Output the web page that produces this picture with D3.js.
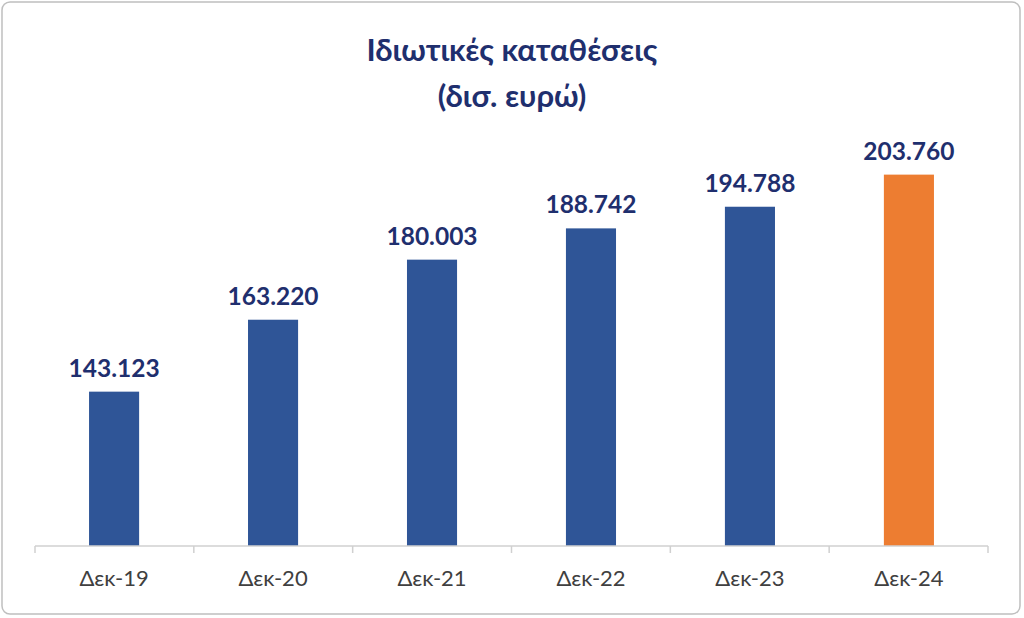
<!DOCTYPE html>
<html><head><meta charset="utf-8">
<script src="https://cdn.jsdelivr.net/npm/d3@7"></script>
<style>body{margin:0;background:#fff}</style>
</head><body><svg id="chart" width="1024" height="618"></svg>
<script>
var categories = ["Δεκ-19", "Δεκ-20", "Δεκ-21", "Δεκ-22", "Δεκ-23", "Δεκ-24"];
var values = [143.123, 163.220, 180.003, 188.742, 194.788, 203.760];
var labels = ["143.123", "163.220", "180.003", "188.742", "194.788", "203.760"];
var colors = ["#2f5597", "#2f5597", "#2f5597", "#2f5597", "#2f5597", "#ed7d31"];

var svg = d3.select("#chart");
svg.append("rect").attr("x", 2).attr("y", 2).attr("width", 1018).attr("height", 612)
    .attr("rx", 8).attr("fill", "#fff").attr("stroke", "#bfbfbf").attr("stroke-width", 1.5);

var navy = "#1f2f6e";
svg.append("text").attr("x", 512).attr("y", 61).attr("text-anchor", "middle")
    .attr("font-family", "Lato, 'Noto Sans', sans-serif").attr("font-weight", "bold")
    .attr("font-size", 31).attr("fill", navy).text("Ιδιωτικές καταθέσεις");
svg.append("text").attr("x", 512).attr("y", 107).attr("text-anchor", "middle")
    .attr("font-family", "Lato, 'Noto Sans', sans-serif").attr("font-weight", "bold")
    .attr("font-size", 31).attr("fill", navy).text("(δισ. ευρώ)");

var x = d3.scaleBand().domain(categories).range([35, 988]).paddingInner(0.685).paddingOuter(0.34);
var y = d3.scaleLinear().domain([100, 220]).range([546, 116.5]);

svg.selectAll(".bar").data(values).enter().append("rect")
    .attr("x", function (d, i) { return x(categories[i]); })
    .attr("y", function (d) { return y(d); })
    .attr("width", x.bandwidth())
    .attr("height", function (d) { return y(100) - y(d); })
    .attr("fill", function (d, i) { return colors[i]; });

svg.selectAll(".lbl").data(values).enter().append("text")
    .attr("x", function (d, i) { return x(categories[i]) + x.bandwidth() / 2; })
    .attr("y", function (d) { return y(d) - 15; })
    .attr("text-anchor", "middle")
    .attr("font-family", "Lato, 'Noto Sans', sans-serif").attr("font-weight", "bold")
    .attr("font-size", 24.5).attr("fill", navy)
    .text(function (d, i) { return labels[i]; });

var axis = svg.append("g").attr("transform", "translate(0,546)");
axis.append("line").attr("x1", 35).attr("x2", 988).attr("stroke", "#d0d0d0").attr("stroke-width", 1.5);
var step = (988 - 35) / categories.length;
d3.range(categories.length + 1).forEach(function (i) {
    axis.append("line").attr("x1", 35 + i * step).attr("x2", 35 + i * step)
        .attr("y1", 0).attr("y2", 7).attr("stroke", "#d0d0d0").attr("stroke-width", 1.5);
});
axis.selectAll(".tick").data(categories).enter().append("text")
    .attr("x", function (d) { return x(d) + x.bandwidth() / 2; })
    .attr("y", 40).attr("text-anchor", "middle")
    .attr("font-family", "Lato, 'Noto Sans', sans-serif")
    .attr("font-size", 22).attr("fill", "#404040")
    .text(function (d) { return d; });
</script></body></html>
